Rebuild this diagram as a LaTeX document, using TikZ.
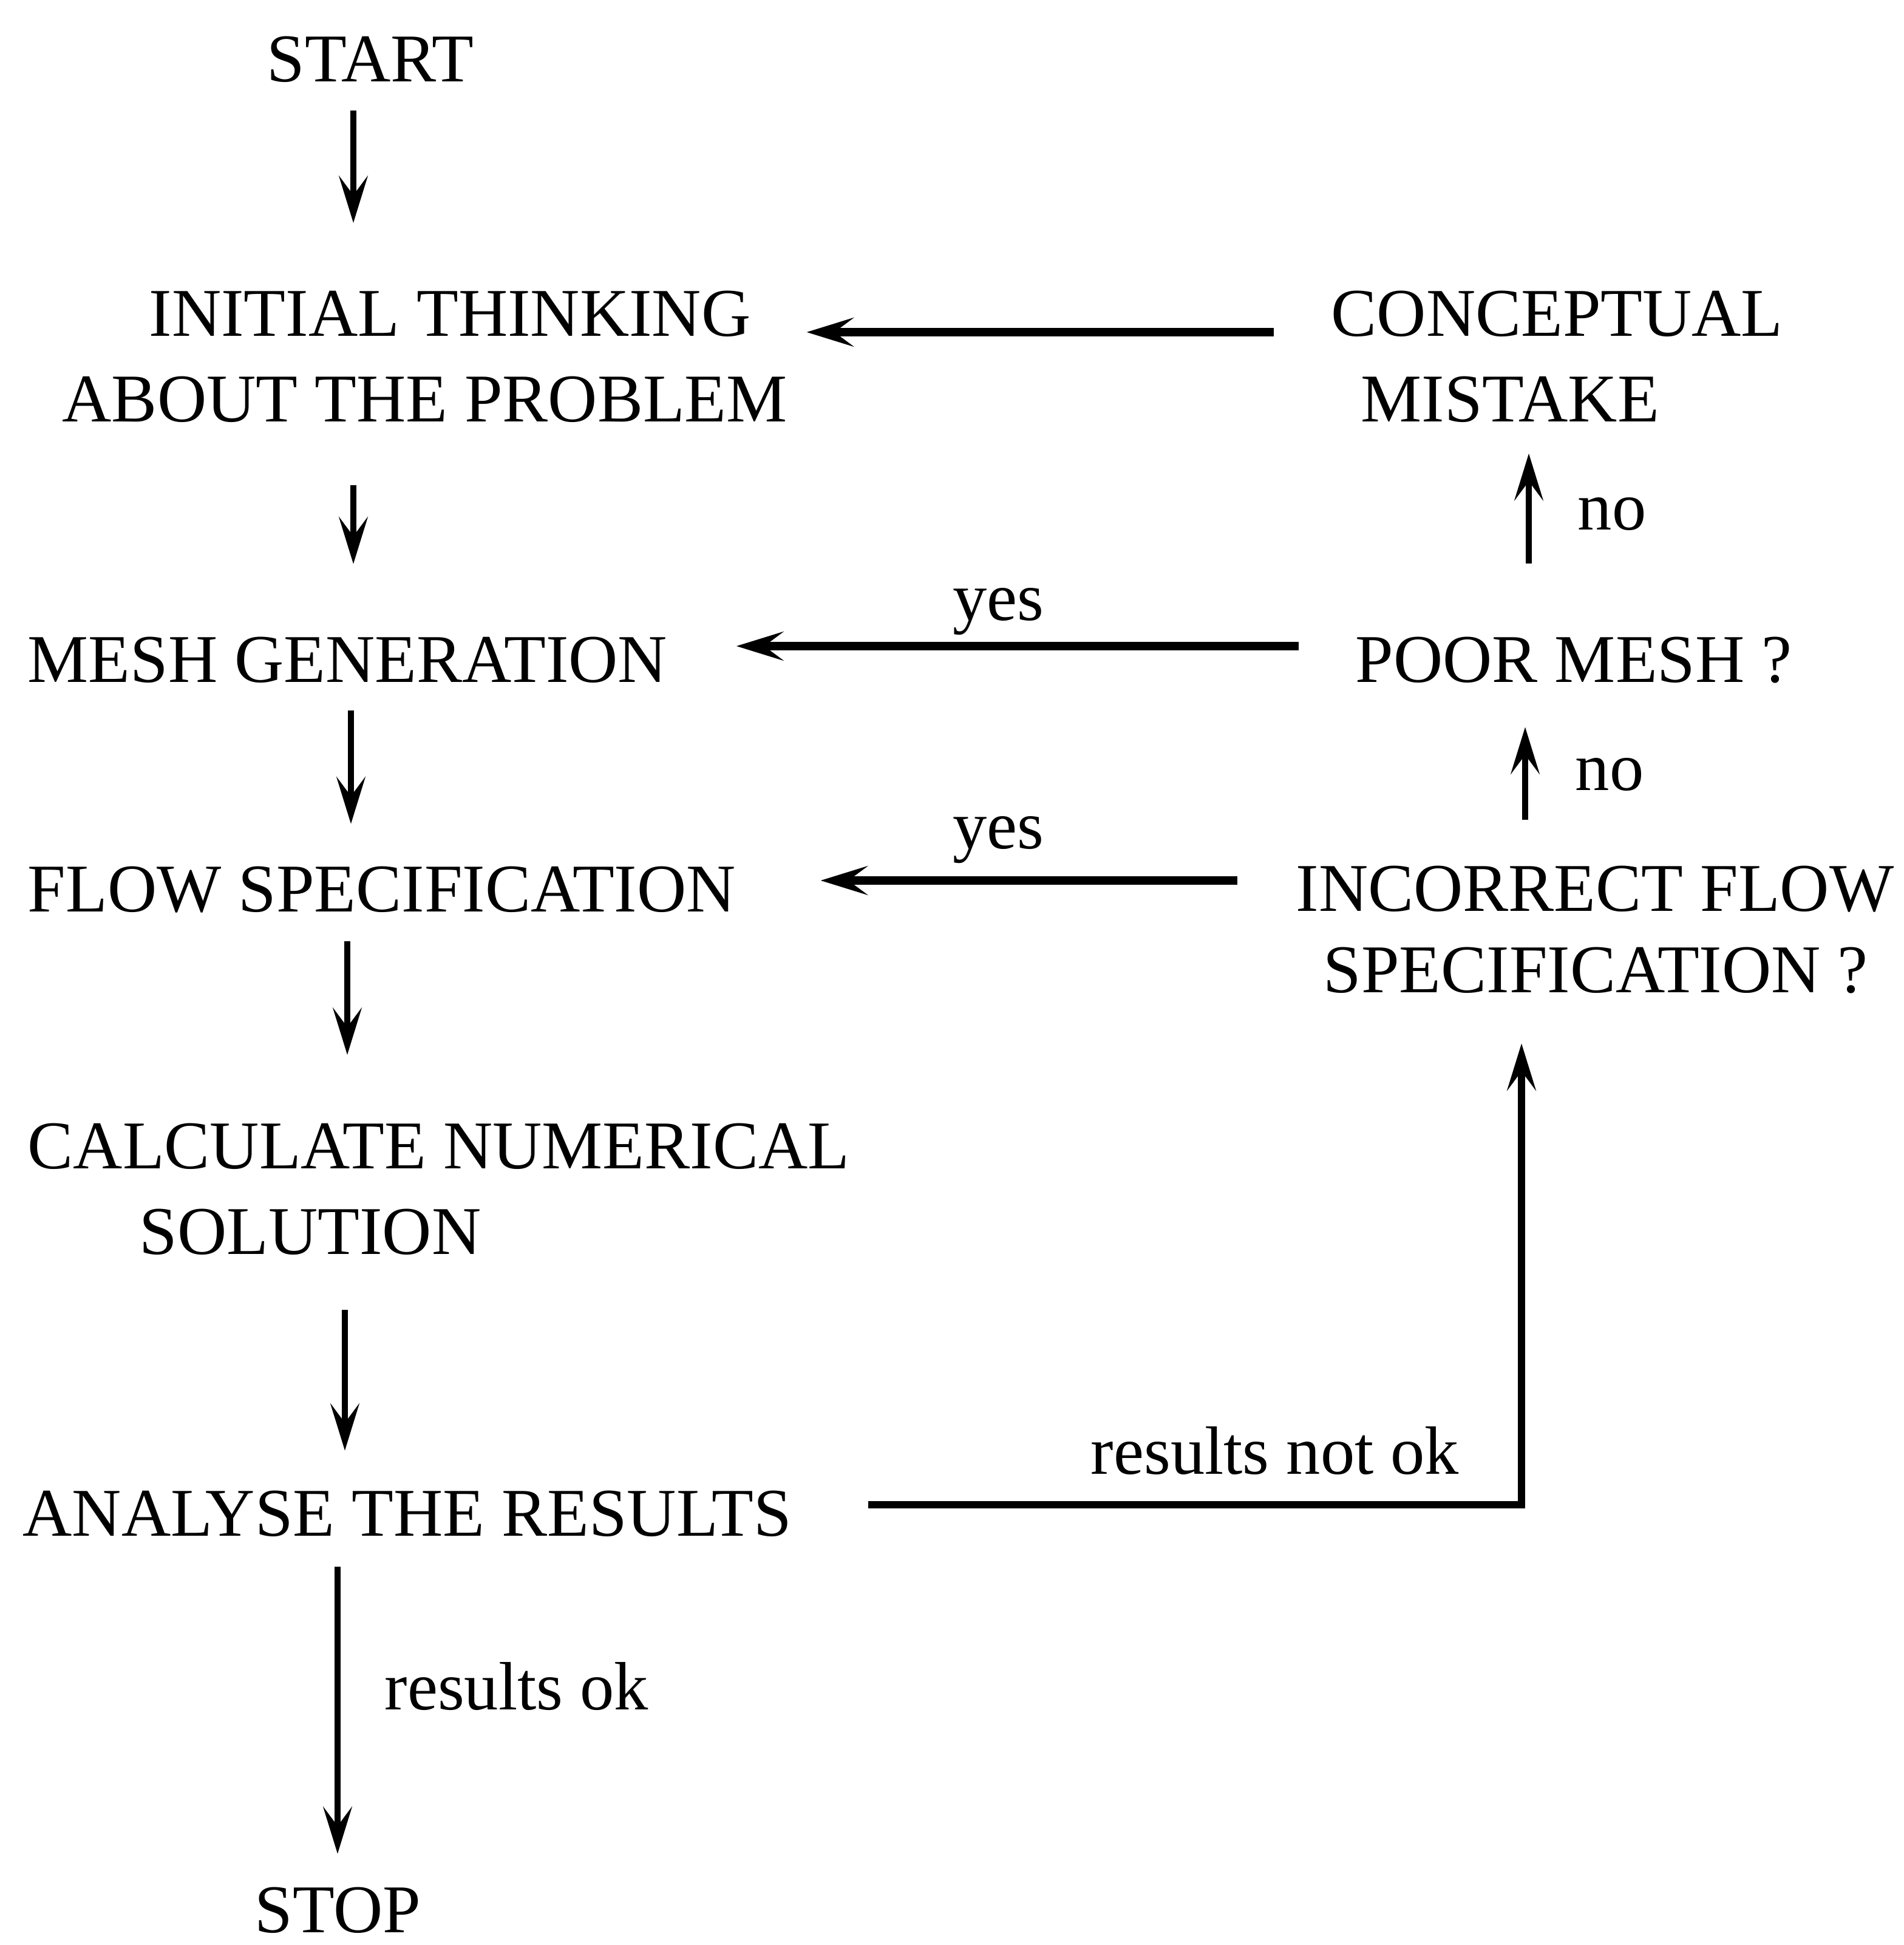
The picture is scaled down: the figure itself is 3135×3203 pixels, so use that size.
\documentclass[tikz,border=0pt]{standalone}
\usepackage{fontspec}
\setmainfont{Liberation Serif}
\usetikzlibrary{arrows.meta}
\begin{document}
\begin{tikzpicture}[x=0.01cm,y=-0.01cm,
  every node/.style={inner sep=0pt, font=\fontsize{32}{40}\selectfont},
  box/.style={anchor=base west, align=left},
  lbl/.style={anchor=base},
  wire/.style={line width=3pt},
  hwire/.style={line width=3.8pt},
  tip/.style={-{Stealth[length=22pt,width=13.5pt,inset=9pt]}},
  arr/.style={wire, tip},
  harr/.style={hwire, tip}]
\useasboundingbox (0,0) rectangle (3135,3203);

% left column: main sequence (multi-line boxes sit on their last baseline)
\node[box] (start) at (439,135) {START};
\node[box] (init) at (102,694) {\hspace*{1.43cm}INITIAL THINKING\\ABOUT THE PROBLEM};
\node[box] (mesh) at (45,1123) {MESH GENERATION};
\node[box] (flow) at (45,1501) {FLOW SPECIFICATION};
\node[box] (calc) at (45,2065) {CALCULATE NUMERICAL\\\hspace*{1.84cm}SOLUTION};
\node[box] (anal) at (37,2529) {ANALYSE THE RESULTS};
\node[box] (stop) at (419,3182) {STOP};

% right column: checks
\node[box] (conc) at (2192,694) {CONCEPTUAL\\\hspace*{0.49cm}MISTAKE};
\node[box] (poor) at (2232,1123) {POOR MESH ?};
\node[box, font=\fontsize{32}{38}\selectfont] (inc) at (2134,1634) {INCORRECT FLOW\\\hspace*{0.45cm}SPECIFICATION ?};

% labels
\node[lbl] (yes1) at (1644,1021) {yes};
\node[lbl] (yes2) at (1644,1397) {yes};
\node[lbl, anchor=base west] (no1) at (2598,872) {no};
\node[lbl, anchor=base west] (no2) at (2594,1301) {no};
\node[lbl] (notok) at (2100,2427) {results not ok};
\node[lbl, anchor=base west] (ok) at (633,2815) {results ok};

% main sequence arrows
\draw[arr, shorten <=0.45cm, shorten >=1.11cm] (start.south -| 582,0) -- (init.north -| 582,0);
\draw[arr, shorten <=1.03cm, shorten >=1.19cm] (init.south -| 582,0) -- (mesh.north -| 582,0);
\draw[arr, shorten <=0.45cm, shorten >=0.69cm] (mesh.south -| 578,0) -- (flow.north -| 578,0);
\draw[arr, shorten <=0.47cm, shorten >=1.12cm] (flow.south -| 572,0) -- (calc.north -| 572,0);
\draw[arr, shorten <=0.90cm, shorten >=0.65cm] (calc.south -| 568,0) -- (anal.north -| 568,0);
\draw[arr, shorten <=0.49cm, shorten >=0.54cm] (anal.south -| 556,0) -- (stop.north -| 556,0);

% feedback arrows
\draw[harr, shorten <=0.94cm, shorten >=0.31cm] (conc.west |- 0,547) -- (init.east |- 0,547);
\draw[harr, shorten <=0.93cm, shorten >=1.13cm] (poor.west |- 0,1064) -- (mesh.east |- 0,1064);
\draw[harr, shorten <=0.96cm, shorten >=1.39cm] (inc.west |- 0,1450) -- (flow.east |- 0,1450);
\draw[arr, shorten <=1.20cm, shorten >=0.51cm] (poor.north -| 2518,0) -- (conc.south -| 2518,0);
\draw[arr, shorten <=0.75cm, shorten >=0.72cm] (inc.north -| 2512,0) -- (poor.south -| 2512,0);
\draw[arr, line width=3.4pt, shorten <=1.25cm, shorten >=0.82cm] (anal.east |- 0,2478) -| (inc.south -| 2506,0);
\end{tikzpicture}
\end{document}
